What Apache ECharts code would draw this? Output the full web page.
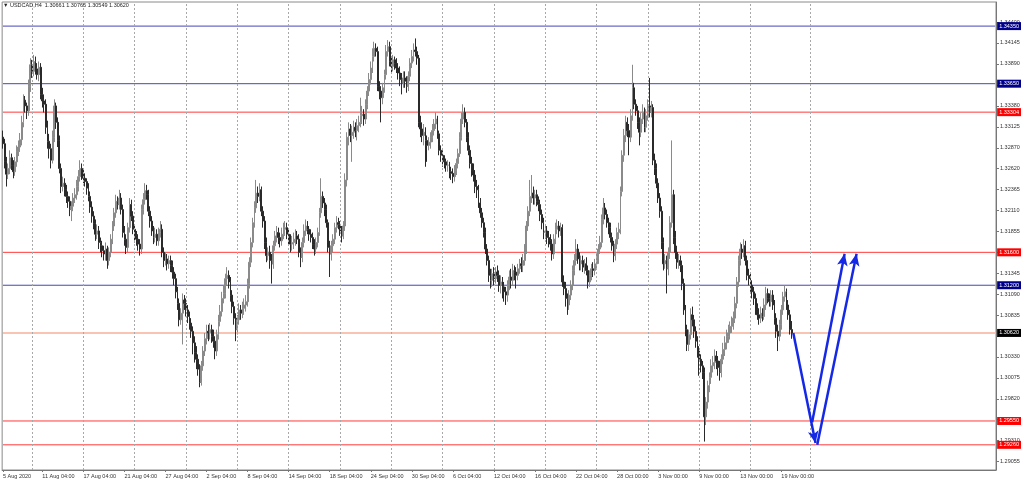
<!DOCTYPE html>
<html><head><meta charset="utf-8">
<script src="https://cdn.jsdelivr.net/npm/echarts@6/dist/echarts.min.js"></script>
<style>html,body{margin:0;padding:0;background:#fff}#c{width:1024px;height:481px}</style>
</head><body><div id="c"></div>
<script>
// USDCAD H4 bars, oldest first (5 Aug 2020 08:00 ... 20 Nov 2020 04:00)
const opens=[1.3300,1.3292,1.3270,1.3255,1.3262,1.3275,1.3266,1.3258,1.3270,1.3283,
1.3288,1.3297,1.3318,1.3345,1.3338,1.3332,1.3362,1.3388,1.3380,1.3392,
1.3383,1.3376,1.3385,1.3352,1.3344,1.3340,1.3312,1.3295,1.3286,1.3272,
1.3300,1.3338,1.3318,1.3296,1.3262,1.3240,1.3244,1.3236,1.3228,1.3222,
1.3212,1.3216,1.3226,1.3230,1.3240,1.3252,1.3262,1.3254,1.3250,1.3246,
1.3238,1.3228,1.3215,1.3204,1.3195,1.3182,1.3186,1.3172,1.3168,1.3162,
1.3158,1.3164,1.3150,1.3160,1.3176,1.3192,1.3208,1.3222,1.3218,1.3226,
1.3212,1.3184,1.3176,1.3166,1.3190,1.3218,1.3204,1.3188,1.3180,1.3176,
1.3170,1.3164,1.3212,1.3224,1.3235,1.3230,1.3210,1.3198,1.3186,1.3178,
1.3182,1.3174,1.3184,1.3188,1.3160,1.3150,1.3152,1.3146,1.3150,1.3144,
1.3136,1.3128,1.3112,1.3098,1.3078,1.3086,1.3102,1.3098,1.3090,1.3082,
1.3074,1.3064,1.3050,1.3038,1.3030,1.3018,1.3002,1.3022,1.3040,1.3055,
1.3064,1.3062,1.3066,1.3058,1.3052,1.3040,1.3060,1.3076,1.3088,1.3104,
1.3110,1.3128,1.3132,1.3124,1.3108,1.3094,1.3080,1.3066,1.3078,1.3090,
1.3086,1.3092,1.3096,1.3100,1.3122,1.3148,1.3172,1.3196,1.3214,1.3232,
1.3228,1.3236,1.3210,1.3198,1.3172,1.3156,1.3160,1.3150,1.3146,1.3168,
1.3180,1.3184,1.3178,1.3174,1.3182,1.3188,1.3190,1.3182,1.3176,1.3170,
1.3172,1.3176,1.3180,1.3176,1.3160,1.3154,1.3172,1.3186,1.3192,1.3188,
1.3182,1.3178,1.3170,1.3164,1.3172,1.3184,1.3208,1.3228,1.3220,1.3212,
1.3196,1.3166,1.3158,1.3168,1.3176,1.3190,1.3196,1.3194,1.3186,1.3180,
1.3192,1.3248,1.3300,1.3310,1.3302,1.3306,1.3312,1.3308,1.3314,1.3318,
1.3326,1.3328,1.3322,1.3340,1.3356,1.3370,1.3384,1.3398,1.3408,1.3404,
1.3362,1.3356,1.3348,1.3360,1.3376,1.3404,1.3410,1.3392,1.3386,1.3394,
1.3390,1.3384,1.3378,1.3370,1.3366,1.3372,1.3368,1.3362,1.3374,1.3390,
1.3398,1.3406,1.3404,1.3396,1.3318,1.3310,1.3302,1.3306,1.3296,1.3290,
1.3294,1.3300,1.3308,1.3316,1.3322,1.3304,1.3284,1.3278,1.3272,1.3270,
1.3266,1.3266,1.3258,1.3256,1.3252,1.3260,1.3268,1.3280,1.3300,1.3322,
1.3330,1.3318,1.3300,1.3284,1.3268,1.3260,1.3254,1.3240,1.3236,1.3220,
1.3208,1.3196,1.3184,1.3164,1.3150,1.3132,1.3126,1.3134,1.3128,1.3136,
1.3132,1.3120,1.3124,1.3118,1.3112,1.3108,1.3120,1.3130,1.3126,1.3138,
1.3136,1.3132,1.3140,1.3146,1.3144,1.3150,1.3164,1.3192,1.3210,1.3228,
1.3232,1.3226,1.3230,1.3222,1.3218,1.3206,1.3196,1.3184,1.3186,1.3178,
1.3174,1.3170,1.3158,1.3176,1.3188,1.3192,1.3186,1.3190,1.3124,1.3116,
1.3104,1.3096,1.3108,1.3120,1.3138,1.3150,1.3164,1.3152,1.3146,1.3150,
1.3142,1.3146,1.3138,1.3124,1.3132,1.3140,1.3138,1.3146,1.3152,1.3164,
1.3172,1.3200,1.3214,1.3206,1.3196,1.3190,1.3178,1.3168,1.3156,1.3170,
1.3184,1.3188,1.3234,1.3278,1.3302,1.3318,1.3308,1.3300,1.3326,1.3360,
1.3340,1.3332,1.3318,1.3306,1.3322,1.3330,1.3312,1.3326,1.3338,1.3330,
1.3336,1.3272,1.3262,1.3244,1.3226,1.3210,1.3172,1.3146,1.3150,1.3140,
1.3160,1.3196,1.3230,1.3178,1.3160,1.3148,1.3150,1.3144,1.3122,1.3090,
1.3066,1.3048,1.3060,1.3084,1.3078,1.3064,1.3052,1.3040,1.3030,1.3022,
1.3014,1.2960,1.2978,1.2998,1.3008,1.3022,1.3026,1.3034,1.3028,1.3020,
1.3014,1.3030,1.3042,1.3050,1.3058,1.3062,1.3070,1.3074,1.3080,1.3098,
1.3124,1.3150,1.3164,1.3160,1.3168,1.3150,1.3132,1.3128,1.3120,1.3112,
1.3104,1.3090,1.3084,1.3080,1.3086,1.3082,1.3096,1.3110,1.3104,1.3100,
1.3108,1.3096,1.3080,1.3064,1.3058,1.3072,1.3090,1.3106,1.3112,1.3096,1.3084,1.30661];
const highs=[1.3308,1.3298,1.3276,1.3268,1.3284,1.3280,1.3272,1.3276,1.3290,1.3296,
1.3305,1.3326,1.3352,1.3350,1.3342,1.3370,1.3396,1.3394,1.3400,1.3398,
1.3390,1.3392,1.3390,1.3360,1.3352,1.3346,1.3320,1.3304,1.3292,1.3308,
1.3346,1.3342,1.3324,1.3302,1.3268,1.3252,1.3250,1.3242,1.3234,1.3228,
1.3222,1.3232,1.3238,1.3248,1.3260,1.3272,1.3268,1.3260,1.3256,1.3250,
1.3244,1.3234,1.3222,1.3210,1.3200,1.3194,1.3192,1.3178,1.3174,1.3168,
1.3172,1.3168,1.3166,1.3182,1.3198,1.3214,1.3230,1.3228,1.3236,1.3232,
1.3218,1.3192,1.3182,1.3196,1.3226,1.3224,1.3210,1.3194,1.3186,1.3182,
1.3176,1.3218,1.3232,1.3244,1.3242,1.3236,1.3216,1.3204,1.3192,1.3190,
1.3188,1.3190,1.3198,1.3194,1.3166,1.3160,1.3158,1.3156,1.3156,1.3150,
1.3142,1.3134,1.3118,1.3104,1.3092,1.3110,1.3108,1.3104,1.3096,1.3088,
1.3080,1.3070,1.3058,1.3046,1.3036,1.3024,1.3028,1.3046,1.3062,1.3072,
1.3072,1.3074,1.3072,1.3066,1.3058,1.3066,1.3084,1.3096,1.3112,1.3120,
1.3134,1.3142,1.3138,1.3130,1.3114,1.3100,1.3086,1.3084,1.3098,1.3096,
1.3100,1.3104,1.3108,1.3128,1.3154,1.3178,1.3202,1.3222,1.3248,1.3240,
1.3244,1.3240,1.3216,1.3204,1.3178,1.3166,1.3168,1.3158,1.3174,1.3186,
1.3192,1.3190,1.3184,1.3190,1.3196,1.3198,1.3196,1.3188,1.3182,1.3180,
1.3184,1.3188,1.3186,1.3182,1.3166,1.3178,1.3194,1.3200,1.3198,1.3192,
1.3188,1.3184,1.3176,1.3178,1.3190,1.3214,1.3250,1.3234,1.3226,1.3218,
1.3200,1.3174,1.3174,1.3182,1.3196,1.3204,1.3202,1.3198,1.3192,1.3198,
1.3256,1.3306,1.3318,1.3316,1.3314,1.3320,1.3318,1.3322,1.3326,1.3348,
1.3338,1.3334,1.3346,1.3362,1.3378,1.3392,1.3408,1.3416,1.3414,1.3410,
1.3368,1.3362,1.3366,1.3382,1.3412,1.3418,1.3416,1.3398,1.3400,1.3398,
1.3396,1.3390,1.3386,1.3378,1.3380,1.3380,1.3374,1.3380,1.3396,1.3406,
1.3414,1.3420,1.3410,1.3400,1.3326,1.3318,1.3316,1.3312,1.3302,1.3300,
1.3306,1.3316,1.3322,1.3330,1.3326,1.3308,1.3290,1.3284,1.3278,1.3274,
1.3272,1.3270,1.3264,1.3262,1.3266,1.3274,1.3286,1.3306,1.3330,1.3340,
1.3336,1.3322,1.3306,1.3290,1.3276,1.3268,1.3260,1.3248,1.3242,1.3226,
1.3214,1.3202,1.3190,1.3170,1.3156,1.3140,1.3140,1.3142,1.3142,1.3144,
1.3138,1.3132,1.3130,1.3124,1.3118,1.3126,1.3138,1.3140,1.3146,1.3144,
1.3142,1.3146,1.3152,1.3154,1.3158,1.3170,1.3198,1.3216,1.3248,1.3254,
1.3240,1.3236,1.3236,1.3228,1.3224,1.3212,1.3202,1.3192,1.3192,1.3186,
1.3182,1.3176,1.3182,1.3196,1.3200,1.3198,1.3196,1.3194,1.3132,1.3124,
1.3110,1.3114,1.3126,1.3144,1.3158,1.3176,1.3170,1.3160,1.3156,1.3156,
1.3152,1.3154,1.3144,1.3138,1.3146,1.3148,1.3152,1.3158,1.3170,1.3180,
1.3206,1.3226,1.3220,1.3212,1.3202,1.3196,1.3184,1.3174,1.3176,1.3190,
1.3196,1.3240,1.3284,1.3310,1.3326,1.3324,1.3316,1.3334,1.3388,1.3366,
1.3346,1.3338,1.3324,1.3330,1.3340,1.3336,1.3334,1.3346,1.3372,1.3344,
1.3340,1.3280,1.3268,1.3250,1.3232,1.3216,1.3178,1.3158,1.3156,1.3166,
1.3204,1.3296,1.3236,1.3186,1.3168,1.3158,1.3156,1.3150,1.3128,1.3096,
1.3072,1.3066,1.3092,1.3094,1.3084,1.3070,1.3058,1.3046,1.3036,1.3028,
1.3020,1.2984,1.3004,1.3014,1.3030,1.3034,1.3042,1.3040,1.3034,1.3028,
1.3036,1.3050,1.3058,1.3066,1.3072,1.3076,1.3082,1.3088,1.3106,1.3130,
1.3156,1.3172,1.3170,1.3176,1.3174,1.3156,1.3140,1.3134,1.3126,1.3118,
1.3110,1.3098,1.3092,1.3094,1.3092,1.3104,1.3118,1.3116,1.3110,1.3114,
1.3114,1.3102,1.3086,1.3072,1.3078,1.3096,1.3112,1.3120,1.3116,1.3102,1.3090,1.30765];
const lows=[1.3286,1.3262,1.3240,1.3249,1.3255,1.3260,1.3250,1.3253,1.3264,1.3277,
1.3282,1.3290,1.3312,1.3330,1.3322,1.3326,1.3355,1.3372,1.3374,1.3376,
1.3370,1.3368,1.3346,1.3336,1.3330,1.3304,1.3286,1.3274,1.3262,1.3268,
1.3294,1.3310,1.3288,1.3256,1.3232,1.3234,1.3228,1.3220,1.3214,1.3204,
1.3198,1.3210,1.3220,1.3224,1.3234,1.3246,1.3248,1.3244,1.3240,1.3230,
1.3222,1.3208,1.3196,1.3188,1.3174,1.3176,1.3164,1.3160,1.3154,1.3150,
1.3150,1.3140,1.3144,1.3154,1.3170,1.3186,1.3202,1.3212,1.3212,1.3206,
1.3178,1.3168,1.3158,1.3160,1.3184,1.3198,1.3182,1.3172,1.3168,1.3162,
1.3156,1.3158,1.3206,1.3218,1.3224,1.3204,1.3190,1.3180,1.3170,1.3172,
1.3168,1.3168,1.3178,1.3154,1.3142,1.3144,1.3138,1.3140,1.3136,1.3128,
1.3120,1.3104,1.3090,1.3070,1.3072,1.3048,1.3090,1.3082,1.3074,1.3066,
1.3056,1.3036,1.3026,1.3018,1.3010,1.2996,1.2998,1.3016,1.3034,1.3048,
1.3052,1.3054,1.3050,1.3044,1.3030,1.3034,1.3054,1.3070,1.3082,1.3098,
1.3104,1.3120,1.3116,1.3100,1.3086,1.3072,1.3052,1.3060,1.3072,1.3078,
1.3080,1.3084,1.3088,1.3094,1.3116,1.3142,1.3166,1.3190,1.3208,1.3220,
1.3222,1.3204,1.3190,1.3164,1.3148,1.3150,1.3140,1.3122,1.3140,1.3162,
1.3172,1.3170,1.3166,1.3168,1.3176,1.3180,1.3176,1.3168,1.3160,1.3162,
1.3164,1.3168,1.3170,1.3154,1.3142,1.3148,1.3166,1.3180,1.3182,1.3174,
1.3172,1.3164,1.3156,1.3158,1.3166,1.3180,1.3202,1.3214,1.3204,1.3190,
1.3160,1.3130,1.3150,1.3160,1.3170,1.3184,1.3188,1.3180,1.3172,1.3176,
1.3186,1.3240,1.3290,1.3294,1.3270,1.3298,1.3300,1.3296,1.3306,1.3312,
1.3316,1.3314,1.3316,1.3334,1.3350,1.3364,1.3378,1.3392,1.3398,1.3356,
1.3346,1.3318,1.3340,1.3354,1.3370,1.3398,1.3386,1.3378,1.3380,1.3382,
1.3378,1.3370,1.3362,1.3352,1.3360,1.3360,1.3354,1.3356,1.3368,1.3384,
1.3392,1.3398,1.3388,1.3312,1.3300,1.3294,1.3290,1.3264,1.3270,1.3284,
1.3286,1.3294,1.3302,1.3310,1.3298,1.3278,1.3270,1.3264,1.3262,1.3258,
1.3258,1.3250,1.3248,1.3244,1.3246,1.3254,1.3262,1.3276,1.3296,1.3316,
1.3312,1.3294,1.3278,1.3262,1.3252,1.3246,1.3232,1.3226,1.3214,1.3202,
1.3190,1.3178,1.3158,1.3144,1.3124,1.3116,1.3118,1.3120,1.3122,1.3124,
1.3112,1.3110,1.3104,1.3100,1.3096,1.3100,1.3114,1.3116,1.3120,1.3126,
1.3116,1.3126,1.3134,1.3136,1.3136,1.3144,1.3158,1.3186,1.3204,1.3220,
1.3218,1.3218,1.3216,1.3210,1.3198,1.3188,1.3176,1.3176,1.3170,1.3166,
1.3162,1.3150,1.3152,1.3170,1.3182,1.3178,1.3180,1.3118,1.3108,1.3094,
1.3084,1.3090,1.3102,1.3114,1.3132,1.3144,1.3146,1.3138,1.3138,1.3136,
1.3134,1.3132,1.3116,1.3118,1.3126,1.3130,1.3132,1.3140,1.3146,1.3158,
1.3166,1.3194,1.3200,1.3190,1.3182,1.3172,1.3162,1.3148,1.3150,1.3164,
1.3176,1.3182,1.3228,1.3270,1.3294,1.3300,1.3278,1.3294,1.3320,1.3334,
1.3326,1.3310,1.3290,1.3300,1.3316,1.3306,1.3306,1.3320,1.3324,1.3324,
1.3266,1.3254,1.3238,1.3220,1.3202,1.3164,1.3138,1.3140,1.3110,1.3132,
1.3152,1.3190,1.3170,1.3152,1.3140,1.3140,1.3136,1.3114,1.3084,1.3058,
1.3040,1.3040,1.3054,1.3070,1.3056,1.3044,1.3032,1.3010,1.3014,1.3006,
1.2930,1.2950,1.2970,1.2990,1.3000,1.3014,1.3018,1.3018,1.3010,1.3004,
1.3008,1.3024,1.3034,1.3042,1.3050,1.3054,1.3062,1.3066,1.3074,1.3092,
1.3118,1.3144,1.3152,1.3154,1.3144,1.3126,1.3120,1.3112,1.3104,1.3096,
1.3084,1.3078,1.3072,1.3074,1.3076,1.3078,1.3090,1.3098,1.3094,1.3094,
1.3090,1.3072,1.3056,1.3040,1.3052,1.3066,1.3084,1.3100,1.3090,1.3078,1.3060,1.30549];
const closes=[1.3292,1.3270,1.3255,1.3262,1.3275,1.3266,1.3258,1.3270,1.3283,1.3288,
1.3297,1.3318,1.3345,1.3338,1.3332,1.3362,1.3388,1.3380,1.3392,1.3383,
1.3376,1.3385,1.3352,1.3344,1.3340,1.3312,1.3295,1.3286,1.3272,1.3300,
1.3338,1.3318,1.3296,1.3262,1.3240,1.3244,1.3236,1.3228,1.3222,1.3212,
1.3216,1.3226,1.3230,1.3240,1.3252,1.3262,1.3254,1.3250,1.3246,1.3238,
1.3228,1.3215,1.3204,1.3195,1.3182,1.3186,1.3172,1.3168,1.3162,1.3158,
1.3164,1.3150,1.3160,1.3176,1.3192,1.3208,1.3222,1.3218,1.3226,1.3212,
1.3184,1.3176,1.3166,1.3190,1.3218,1.3204,1.3188,1.3180,1.3176,1.3170,
1.3164,1.3212,1.3224,1.3235,1.3230,1.3210,1.3198,1.3186,1.3178,1.3182,
1.3174,1.3184,1.3188,1.3160,1.3150,1.3152,1.3146,1.3150,1.3144,1.3136,
1.3128,1.3112,1.3098,1.3078,1.3086,1.3102,1.3098,1.3090,1.3082,1.3074,
1.3064,1.3050,1.3038,1.3030,1.3018,1.3002,1.3022,1.3040,1.3055,1.3064,
1.3062,1.3066,1.3058,1.3052,1.3040,1.3060,1.3076,1.3088,1.3104,1.3110,
1.3128,1.3132,1.3124,1.3108,1.3094,1.3080,1.3066,1.3078,1.3090,1.3086,
1.3092,1.3096,1.3100,1.3122,1.3148,1.3172,1.3196,1.3214,1.3232,1.3228,
1.3236,1.3210,1.3198,1.3172,1.3156,1.3160,1.3150,1.3146,1.3168,1.3180,
1.3184,1.3178,1.3174,1.3182,1.3188,1.3190,1.3182,1.3176,1.3170,1.3172,
1.3176,1.3180,1.3176,1.3160,1.3154,1.3172,1.3186,1.3192,1.3188,1.3182,
1.3178,1.3170,1.3164,1.3172,1.3184,1.3208,1.3228,1.3220,1.3212,1.3196,
1.3166,1.3158,1.3168,1.3176,1.3190,1.3196,1.3194,1.3186,1.3180,1.3192,
1.3248,1.3300,1.3310,1.3302,1.3306,1.3312,1.3308,1.3314,1.3318,1.3326,
1.3328,1.3322,1.3340,1.3356,1.3370,1.3384,1.3398,1.3408,1.3404,1.3362,
1.3356,1.3348,1.3360,1.3376,1.3404,1.3410,1.3392,1.3386,1.3394,1.3390,
1.3384,1.3378,1.3370,1.3366,1.3372,1.3368,1.3362,1.3374,1.3390,1.3398,
1.3406,1.3404,1.3396,1.3318,1.3310,1.3302,1.3306,1.3296,1.3290,1.3294,
1.3300,1.3308,1.3316,1.3322,1.3304,1.3284,1.3278,1.3272,1.3270,1.3266,
1.3266,1.3258,1.3256,1.3252,1.3260,1.3268,1.3280,1.3300,1.3322,1.3330,
1.3318,1.3300,1.3284,1.3268,1.3260,1.3254,1.3240,1.3236,1.3220,1.3208,
1.3196,1.3184,1.3164,1.3150,1.3132,1.3126,1.3134,1.3128,1.3136,1.3132,
1.3120,1.3124,1.3118,1.3112,1.3108,1.3120,1.3130,1.3126,1.3138,1.3136,
1.3132,1.3140,1.3146,1.3144,1.3150,1.3164,1.3192,1.3210,1.3228,1.3232,
1.3226,1.3230,1.3222,1.3218,1.3206,1.3196,1.3184,1.3186,1.3178,1.3174,
1.3170,1.3158,1.3176,1.3188,1.3192,1.3186,1.3190,1.3124,1.3116,1.3104,
1.3096,1.3108,1.3120,1.3138,1.3150,1.3164,1.3152,1.3146,1.3150,1.3142,
1.3146,1.3138,1.3124,1.3132,1.3140,1.3138,1.3146,1.3152,1.3164,1.3172,
1.3200,1.3214,1.3206,1.3196,1.3190,1.3178,1.3168,1.3156,1.3170,1.3184,
1.3188,1.3234,1.3278,1.3302,1.3318,1.3308,1.3300,1.3326,1.3360,1.3340,
1.3332,1.3318,1.3306,1.3322,1.3330,1.3312,1.3326,1.3338,1.3330,1.3336,
1.3272,1.3262,1.3244,1.3226,1.3210,1.3172,1.3146,1.3150,1.3140,1.3160,
1.3196,1.3230,1.3178,1.3160,1.3148,1.3150,1.3144,1.3122,1.3090,1.3066,
1.3048,1.3060,1.3084,1.3078,1.3064,1.3052,1.3040,1.3030,1.3022,1.3014,
1.2960,1.2978,1.2998,1.3008,1.3022,1.3026,1.3034,1.3028,1.3020,1.3014,
1.3030,1.3042,1.3050,1.3058,1.3062,1.3070,1.3074,1.3080,1.3098,1.3124,
1.3150,1.3164,1.3160,1.3168,1.3150,1.3132,1.3128,1.3120,1.3112,1.3104,
1.3090,1.3084,1.3080,1.3086,1.3082,1.3096,1.3110,1.3104,1.3100,1.3108,
1.3096,1.3080,1.3064,1.3058,1.3072,1.3090,1.3106,1.3112,1.3096,1.3084,1.3066,1.30620];

// time-axis labels: [bar slot, text]
const xTickLabels=[[0,'5 Aug 2020'],[23,'11 Aug 04:00'],[47,'17 Aug 04:00'],[71,'21 Aug 04:00'],[95,'27 Aug 04:00'],
[119,'2 Sep 04:00'],[143,'8 Sep 04:00'],[167,'14 Sep 04:00'],[191,'18 Sep 04:00'],[215,'24 Sep 04:00'],
[239,'30 Sep 04:00'],[263,'6 Oct 04:00'],[287,'12 Oct 04:00'],[311,'16 Oct 04:00'],[335,'22 Oct 04:00'],
[359,'28 Oct 00:00'],[383,'3 Nov 00:00'],[407,'9 Nov 00:00'],[431,'13 Nov 00:00'],[455,'19 Nov 00:00']];
const gridSlots=[17,47,77,107,137,167,197,227,257,287,317,347,377,407,437,472];
const totalSlots=581;

// price scale ticks
const yTickVals=[1.34400,1.34145,1.33890,1.33635,1.33380,1.33125,1.32870,1.32620,1.32365,1.32110,1.31855,
1.31600,1.31345,1.31090,1.30835,1.30580,1.30330,1.30075,1.29820,1.29565,1.29310,1.29055];
const yLabelVals=[1.34400,1.34145,1.33890,1.33380,1.33125,1.32870,1.32620,1.32365,1.32110,1.31855,
1.31345,1.31090,1.30835,1.30330,1.30075,1.29820,1.29310,1.29055];

// horizontal levels
const blueLevels=[1.34350,1.33650,1.31200];
const redLevels=[1.33304,1.31600,1.29550,1.29260];
const bidLevel=1.30620;

// projected path arrows: [[slot, price],[slot, price]]
const arrows=[[[462,1.30620],[475,1.29282]],[[473,1.29533],[492,1.31582]],[[476,1.29260],[499,1.31582]]];

const titleText='\u25BC USDCAD,H4  1.30661 1.30765 1.30549 1.30620';

const FONT='"Liberation Sans", Arial, "DejaVu Sans", sans-serif';
const categories=[];
for(let i=0;i<totalSlots;i++) categories.push(String(i));
const labelMap={};
xTickLabels.forEach(([i,t])=>{labelMap[i]=t;});
const candles=closes.map((c,i)=>[opens[i],c,lows[i],highs[i]]);
const lastSlot=totalSlots-1;

// one horizontal line series per level, spanning the category axis, with a price badge at its end
function levelSeries(v,lineColor,bg,w){
  return {type:'line',data:[[0,v],[lastSlot,v]],symbol:'none',silent:true,z:2,clip:false,
    lineStyle:{color:lineColor,width:w,type:'solid'},itemStyle:{color:lineColor},
    emphasis:{disabled:true},
    endLabel:{show:true,distance:2,formatter:v.toFixed(5),
      backgroundColor:bg,color:'#fff',fontSize:5.5,fontFamily:FONT,padding:[1,2,1,2],lineHeight:6}};
}

const series=[
  {type:'line',data:[],silent:true,z:1,
    markLine:{silent:true,precision:5,symbol:['none','none'],animation:false,label:{show:false},
      lineStyle:{color:'#a8a8a8',width:1,type:[2,2]},
      data:gridSlots.map(s=>({xAxis:s}))}}
];
blueLevels.forEach(v=>series.push(levelSeries(v,'#4646b8','#00008b',1)));
redLevels.forEach(v=>series.push(levelSeries(v,'#ff3a3a','#ff0000',1)));
series.push(levelSeries(bidLevel,'#f9c4b2','#000000',2));
series.push({type:'candlestick',data:candles,barWidth:1.4,z:3,silent:true,
  itemStyle:{color:'#8a8a8a',color0:'#1e1e1e',borderColor:'#8a8a8a',borderColor0:'#2a2a2a',borderWidth:1}});
series.push({type:'line',data:[],silent:true,z:5,
  markLine:{silent:true,precision:5,animation:false,symbol:['none','arrow'],symbolSize:[8,12],label:{show:false},
    lineStyle:{color:'#1428e6',width:2.5,type:'solid'},
    data:arrows.map(a=>[{coord:a[0]},{coord:a[1]}])}});

const chart=echarts.init(document.getElementById('c'),null,{renderer:'canvas'});
chart.setOption({
  animation:false,
  backgroundColor:'#ffffff',
  title:{text:titleText,left:3,top:2,padding:0,textStyle:{fontSize:5.5,fontWeight:'normal',color:'#222',fontFamily:FONT}},
  grid:{left:2,right:28,top:2,bottom:11,show:true,borderColor:'#8a8a8a',borderWidth:1,backgroundColor:'transparent'},
  xAxis:{type:'category',data:categories,boundaryGap:true,
    axisLine:{show:true,lineStyle:{color:'#777',width:1}},
    axisTick:{show:true,alignWithLabel:true,length:2,interval:(i)=>labelMap[i]!==undefined,lineStyle:{color:'#777'}},
    axisLabel:{show:true,interval:(i)=>labelMap[i]!==undefined,formatter:(v,i)=>labelMap[i]||'',
      align:'left',margin:3,fontSize:5.5,color:'#333',fontFamily:FONT},
    splitLine:{show:false}},
  yAxis:{type:'value',position:'right',min:1.28954,max:1.34643,scale:true,
    axisLine:{show:true,lineStyle:{color:'#777',width:1}},
    axisTick:{show:true,length:3,customValues:yTickVals,lineStyle:{color:'#777'}},
    axisLabel:{show:true,customValues:yLabelVals,formatter:(v)=>v.toFixed(5),margin:4,fontSize:5.5,color:'#333',fontFamily:FONT},
    splitLine:{show:false}},
  series:series
});
</script>
</body></html>
